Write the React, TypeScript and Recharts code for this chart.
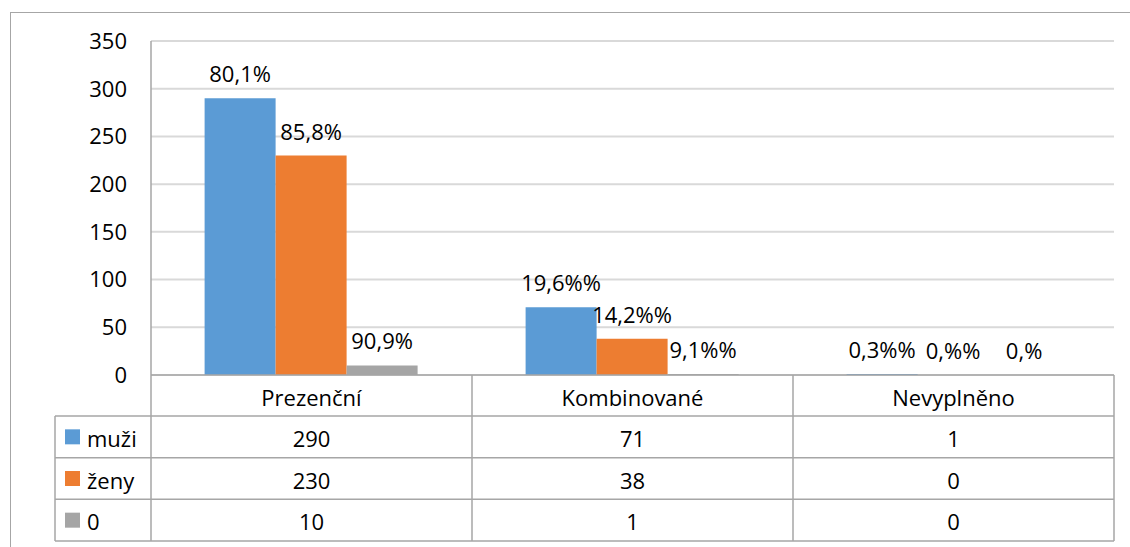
import React from "react"
import { BarChart, Bar, XAxis, YAxis, CartesianGrid, LabelList } from "recharts"

const categories = ["Prezenční", "Kombinované", "Nevyplněno"]
const muzi = [290, 71, 1]
const zeny = [230, 38, 0]
const nula = [10, 1, 0]
const muziLabels = ["80,1%", "19,6%%", "0,3%%"]
const zenyLabels = ["85,8%", "14,2%%", "0,%%"]
const nulaLabels = ["90,9%", "9,1%%", "0,%"]
const yTicks = [0, 50, 100, 150, 200, 250, 300, 350]

const W = 1130
const H = 547
const PLOT_LEFT = 151
const PLOT_RIGHT = 1114
const PLOT_TOP = 41
const TABLE_TOP = 375
const TABLE_BOTTOM = 541
const LEGEND_LEFT = 55
const BAND = (PLOT_RIGHT - PLOT_LEFT) / categories.length
const HEAD_H = 41
const ROW_H = (TABLE_BOTTOM - TABLE_TOP - HEAD_H) / 3
const FONT = "'Open Sans', 'Noto Sans', sans-serif"
const LINE = "#A6A6A6"

const series = [
  { key: "muzi", name: "muži", values: muzi, labels: muziLabels, color: "#5B9BD5" },
  { key: "zeny", name: "ženy", values: zeny, labels: zenyLabels, color: "#ED7D31" },
  { key: "nula", name: "0", values: nula, labels: nulaLabels, color: "#A5A5A5" },
]

const data = categories.map((c, i) => {
  const row: Record<string, string | number> = { name: c }
  series.forEach((s) => {
    row[s.key] = s.values[i]
    row[s.key + "Lbl"] = s.labels[i]
  })
  return row
})

const renderLabel = (p: any) => {
  const x = Number(p.x) + Number(p.width) / 2
  const y = Math.min(Number(p.y), Number(p.y) + Number(p.height)) - 25
  return (
    <text x={x} y={y} textAnchor="middle" dominantBaseline="central" fontSize={22} fontFamily={FONT} fill="#000">
      {p.value}
    </text>
  )
}

function TableTick(props: any) {
  const { x, index, payload } = props
  const left = x - BAND / 2
  const right = x + BAND / 2
  const rowTops = [0, 1, 2].map((r) => TABLE_TOP + HEAD_H + r * ROW_H)
  const txt = { fontSize: 22, fontFamily: FONT, fill: "#000" }
  return (
    <g>
      <text x={x} y={TABLE_TOP + HEAD_H / 2 + 1} textAnchor="middle" dominantBaseline="central" {...txt}>
        {payload.value}
      </text>
      {series.map((s, r) => (
        <text key={s.key} x={x} y={rowTops[r] + ROW_H / 2 + 1} textAnchor="middle" dominantBaseline="central" {...txt}>
          {s.values[index]}
        </text>
      ))}
      <line x1={right} x2={right} y1={TABLE_TOP} y2={TABLE_BOTTOM} stroke={LINE} strokeWidth={1.5} />
      {[...rowTops, TABLE_BOTTOM].map((yy, i) => (
        <line key={i} x1={left} x2={right} y1={yy} y2={yy} stroke={LINE} strokeWidth={1.5} />
      ))}
      {index === 0 && (
        <g>
          <line x1={left} x2={left} y1={TABLE_TOP} y2={TABLE_BOTTOM} stroke={LINE} strokeWidth={1.5} />
          <line x1={LEGEND_LEFT} x2={LEGEND_LEFT} y1={rowTops[0]} y2={TABLE_BOTTOM} stroke={LINE} strokeWidth={1.5} />
          {[...rowTops, TABLE_BOTTOM].map((yy, i) => (
            <line key={i} x1={LEGEND_LEFT} x2={left} y1={yy} y2={yy} stroke={LINE} strokeWidth={1.5} />
          ))}
          {series.map((s, r) => (
            <g key={s.key}>
              <rect x={LEGEND_LEFT + 10} y={rowTops[r] + ROW_H / 2 - 7.5} width={15} height={15} fill={s.color} />
              <text x={LEGEND_LEFT + 32} y={rowTops[r] + ROW_H / 2 + 1} dominantBaseline="central" {...txt}>
                {s.name}
              </text>
            </g>
          ))}
        </g>
      )}
    </g>
  )
}

export default function App() {
  return (
    <div style={{ position: "absolute", left: 0, top: 0, width: W, height: H, background: "#fff", overflow: "hidden" }}>
      <div
        style={{
          position: "absolute",
          left: 10,
          top: 12,
          width: W,
          height: H,
          borderLeft: "1.5px solid #A6A6A6",
          borderTop: "1.5px solid #A6A6A6",
        }}
      />
      <BarChart
        width={W}
        height={H}
        data={data}
        margin={{ top: PLOT_TOP, right: W - PLOT_RIGHT, bottom: H - TABLE_BOTTOM, left: 0 }}
        barCategoryGap="16.7%"
        barGap={0}
        style={{ position: "absolute", left: 0, top: 0 }}
      >
        <CartesianGrid vertical={false} stroke="#D9D9D9" strokeWidth={2} />
        <XAxis
          dataKey="name"
          height={TABLE_BOTTOM - TABLE_TOP}
          tickLine={false}
          tickSize={0}
          axisLine={{ stroke: LINE, strokeWidth: 1.5 }}
          interval={0}
          tick={<TableTick />}
        />
        <YAxis
          width={PLOT_LEFT}
          domain={[0, 350]}
          ticks={yTicks}
          tickLine={false}
          tickSize={0}
          tickMargin={24}
          axisLine={{ stroke: LINE, strokeWidth: 1.5 }}
          tick={{ fontSize: 22, fontFamily: FONT, fill: "#000" }}
        />
        {series.map((s) => (
          <Bar
            key={s.key}
            dataKey={s.key}
            name={s.name}
            fill={s.color}
            minPointSize={(v: number) => (v === 0 ? 0.01 : 0)}
            isAnimationActive={false}
          >
            <LabelList dataKey={s.key + "Lbl"} content={renderLabel} />
          </Bar>
        ))}
      </BarChart>
    </div>
  )
}
